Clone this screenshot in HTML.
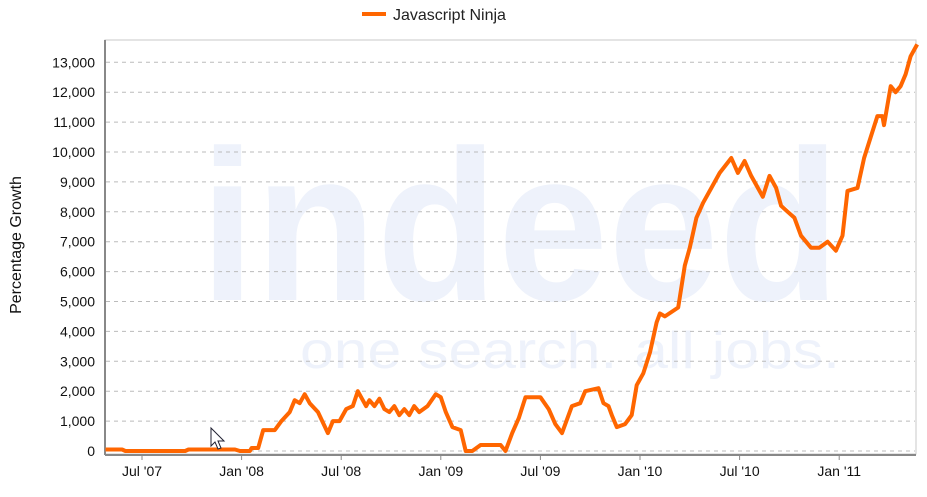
<!DOCTYPE html>
<html><head><meta charset="utf-8"><style>
html,body{margin:0;padding:0;background:#fff;}
svg text{font-family:"Liberation Sans","DejaVu Sans",sans-serif;}
</style></head><body>
<svg id="chart" width="927" height="492" xmlns="http://www.w3.org/2000/svg">
<g fill="#eef2fb">
<text x="200" y="300" font-size="215" font-weight="bold" textLength="640" lengthAdjust="spacingAndGlyphs">indeed</text>
<text x="300" y="368" font-size="52" textLength="540" lengthAdjust="spacingAndGlyphs">one search. all jobs.</text>
</g>
<g id="grid"></g>
<rect x="105" y="40" width="811" height="414" fill="none" stroke="#c8c8c8" stroke-width="1"/>
<line x1="105" y1="40" x2="105" y2="455" stroke="#888" stroke-width="2"/>
<line x1="105" y1="455" x2="916" y2="455" stroke="#888" stroke-width="2"/>
<g id="yticks"></g>
<g id="xticks"></g>
<path id="series" fill="none" stroke="#ff6600" stroke-width="4" stroke-linejoin="round"/>
<text transform="translate(21,245) rotate(-90)" text-anchor="middle" font-size="16" fill="#111">Percentage Growth</text>
<g>
<line x1="362" y1="14" x2="386" y2="14" stroke="#ff6600" stroke-width="4"/>
<text x="393" y="20" font-size="16" fill="#222">Javascript Ninja</text>
</g>
<path d="M211,428 L211,446 L215,442 L218,449 L221,448 L218,441 L224,441 Z" fill="#fff" stroke="#223" stroke-width="1"/>
</svg>
<script>
const monthOffsets=[-2.2,-1.2,-1.0,2.6,2.8,5.6,5.9,6.5,6.6,7.0,7.3,8.0,8.4,8.9,9.2,9.5,9.8,10.1,10.6,11.2,11.5,11.9,12.3,12.7,13.0,13.3,13.5,13.7,14.0,14.3,14.6,14.9,15.2,15.5,15.8,16.1,16.4,16.7,17.2,17.7,18.0,18.3,18.7,19.2,19.5,19.9,20.4,21.6,21.9,22.3,22.7,23.1,24.0,24.5,24.9,25.3,25.5,25.9,26.4,26.7,27.5,27.8,28.1,28.3,28.6,29.1,29.5,29.8,30.2,30.6,31.0,31.2,31.5,32.3,32.7,33.0,33.4,33.8,34.3,34.8,35.5,35.9,36.3,36.7,37.0,37.4,37.8,38.2,38.5,38.9,39.3,39.7,40.3,40.8,41.3,41.8,42.2,42.5,43.1,43.5,43.9,44.3,44.6,44.7,45.1,45.4,45.7,46.0,46.3,46.7];
const growthValues=[50,50,0,0,50,50,0,0,100,100,700,700,1000,1300,1700,1600,1900,1600,1300,600,1000,1000,1400,1500,2000,1700,1500,1700,1500,1750,1400,1300,1500,1200,1400,1200,1500,1300,1500,1900,1800,1300,800,700,0,0,200,200,0,600,1100,1800,1800,1400,900,600,900,1500,1600,2000,2100,1600,1500,1200,800,900,1200,2200,2600,3300,4300,4600,4500,4800,6200,6800,7800,8300,8800,9300,9800,9300,9700,9200,8900,8500,9200,8800,8200,8000,7800,7200,6800,6800,7000,6700,7200,8700,8800,9800,10500,11200,11200,10900,12200,12000,12200,12600,13200,13600];
const yTickValues=[0,1000,2000,3000,4000,5000,6000,7000,8000,9000,10000,11000,12000,13000];
const xTickMonths=[0,6,12,18,24,30,36,42];
const xTickLabels=["Jul '07","Jan '08","Jul '08","Jan '09","Jul '09","Jan '10","Jul '10","Jan '11"];
const NS="http://www.w3.org/2000/svg";
const xs=m=>142+m*16.6;
const ys=v=>451-v*0.0299;
const grid=document.getElementById('grid'),yt=document.getElementById('yticks'),xt=document.getElementById('xticks');
yTickValues.forEach(v=>{
 const y=ys(v);
 const l=document.createElementNS(NS,'line');
 
 
 l.setAttribute('x1',106);l.setAttribute('x2',915);l.setAttribute('y1',y);l.setAttribute('y2',y);
 l.setAttribute('stroke','#bbb');l.setAttribute('stroke-dasharray','4,4');
 grid.appendChild(l);
 const t=document.createElementNS(NS,'text');
 
 
 t.setAttribute('x',95);t.setAttribute('y',y+5);t.setAttribute('text-anchor','end');t.setAttribute('font-size','14');t.setAttribute('fill','#111');
 t.textContent=v.toLocaleString('en-US');
 yt.appendChild(t);
});
xTickMonths.forEach((m,i)=>{
 const x=xs(m);
 const l=document.createElementNS(NS,'line');
 
 
 l.setAttribute('x1',x);l.setAttribute('x2',x);l.setAttribute('y1',455);l.setAttribute('y2',460);l.setAttribute('stroke','#888');
 xt.appendChild(l);
 const t=document.createElementNS(NS,'text');
 
 
 t.setAttribute('x',x);t.setAttribute('y',476);t.setAttribute('text-anchor','middle');t.setAttribute('font-size','14');t.setAttribute('fill','#111');
 t.textContent=xTickLabels[i];
 xt.appendChild(t);
});
document.getElementById('series').setAttribute('d',monthOffsets.map((m,i)=>(i?'L':'M')+xs(m).toFixed(1)+','+ys(growthValues[i]).toFixed(1)).join(' '));
</script>
</body></html>
